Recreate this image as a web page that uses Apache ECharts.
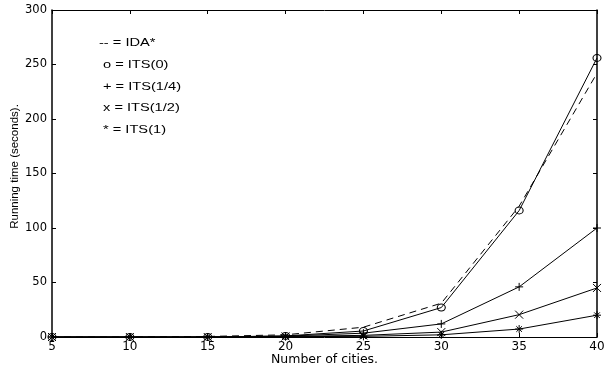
<!DOCTYPE html>
<html>
<head>
<meta charset="utf-8">
<script src="https://cdn.jsdelivr.net/npm/echarts@6/dist/echarts.min.js"></script>
<style>
  html, body { margin: 0; padding: 0; background: #fff; }
  #chart { width: 605px; height: 368px; }
</style>
</head>
<body>
<div id="chart"></div>
<script>
// number of cities
const cities = [5, 10, 15, 20, 25, 30, 35, 40];
// running times (seconds)
const idaStar = [0, 0, 0.5, 2, 9, 31, 120, 242];
const its0 = [0, 0, 0, 1, 5.5, 27, 116, 256];
const itsQuarter = [0, 0, 0, 0.8, 3.5, 12, 46, 100];
const itsHalf = [0, 0, 0, 0.5, 1.5, 4.5, 20.5, 45];
const itsOne = [0, 0, 0, 0.3, 0.6, 2, 7.3, 20];
const legendLines = ["-- = IDA*", "o = ITS(0)", "+ = ITS(1/4)", "x = ITS(1/2)", "* = ITS(1)"];

const FONT = "Liberation Sans";
const WIDE = "DejaVu Sans";
const ringPath = "path://M10,5A5,5,0,1,1,0,5A5,5,0,1,1,10,5Z";
const plusPath = "path://M5,0L5,10M0,5L10,5";
const crossPath = "path://M0,0L10,10M0,10L10,0";
const starPath = "path://M5,0L5,10M0,5L10,5M1.5,1.5L8.5,8.5M1.5,8.5L8.5,1.5";

function pairs(ys) {
  return cities.map((c, i) => [c, ys[i]]);
}

function lineSeries(name, ys, symbol, size, dashed) {
  return {
    name: name,
    type: "line",
    data: pairs(ys),
    symbol: dashed ? "none" : symbol,
    symbolSize: size,
    showSymbol: !dashed,
    clip: false,
    lineStyle: { color: "#000", width: 1, type: dashed ? [7, 5] : "solid" },
    itemStyle: { color: "rgba(0,0,0,0)", borderColor: "#000", borderWidth: 1 },
    emphasis: { disabled: true },
    animation: false
  };
}

function frameX(pos, main) {
  return {
    type: "value",
    position: pos,
    min: 5,
    max: 40,
    interval: 5,
    axisLine: { show: true, onZero: false, lineStyle: { color: "#000", width: 1 } },
    axisTick: { show: true, inside: true, length: 4, lineStyle: { color: "#000" } },
    axisLabel: main
      ? { fontFamily: WIDE, fontSize: 12, color: "#000", margin: 4 }
      : { show: false },
    splitLine: { show: false }
  };
}

function frameY(pos, main) {
  return {
    type: "value",
    position: pos,
    min: 0,
    max: 300,
    interval: 50,
    axisLine: { show: true, onZero: false, lineStyle: { color: "#000", width: 1.5 } },
    axisTick: { show: true, inside: true, length: 4, lineStyle: { color: "#000" } },
    axisLabel: main
      ? { fontFamily: WIDE, fontSize: 11.5, color: "#000", margin: 5 }
      : { show: false },
    splitLine: { show: false }
  };
}

let xMain = frameX("bottom", true);
xMain.name = "Number of cities.";
xMain.nameLocation = "middle";
xMain.nameGap = 16;
xMain.nameMoveOverlap = false;
xMain.nameTextStyle = { fontFamily: WIDE, fontSize: 12.5, color: "#000" };

let yMain = frameY("left", true);
yMain.name = "Running time (seconds).";
yMain.nameLocation = "middle";
yMain.nameGap = 31;
yMain.nameMoveOverlap = false;
yMain.nameTextStyle = {
  fontFamily: FONT,
  fontSize: 11.5,
  color: "#000",
  padding: [0, 0, 0, 14]
};

let myChart = echarts.init(document.getElementById("chart"));
let option = {
  backgroundColor: "#fff",
  textStyle: { fontFamily: FONT, color: "#000" },
  grid: { left: 52, right: 8, top: 10, bottom: 31, outerBoundsMode: "none", containLabel: false },
  xAxis: [xMain, frameX("top", false)],
  yAxis: [yMain, frameY("right", false)],
  graphic: legendLines.map((t, i) => ({
    type: "text",
    left: i === 0 ? 99 : 103,
    top: 37.5 + i * 21.75,
    scaleX: 1.33,
    style: { text: t, font: "11px " + FONT, fill: "#000" }
  })),
  series: [
    lineSeries("IDA*", idaStar, "none", 0, true),
    lineSeries("ITS(0)", its0, ringPath, [8, 7], false),
    lineSeries("ITS(1/4)", itsQuarter, plusPath, 8, false),
    lineSeries("ITS(1/2)", itsHalf, crossPath, 8, false),
    lineSeries("ITS(1)", itsOne, starPath, 8, false)
  ]
};
myChart.setOption(option, true);
</script>
</body>
</html>
